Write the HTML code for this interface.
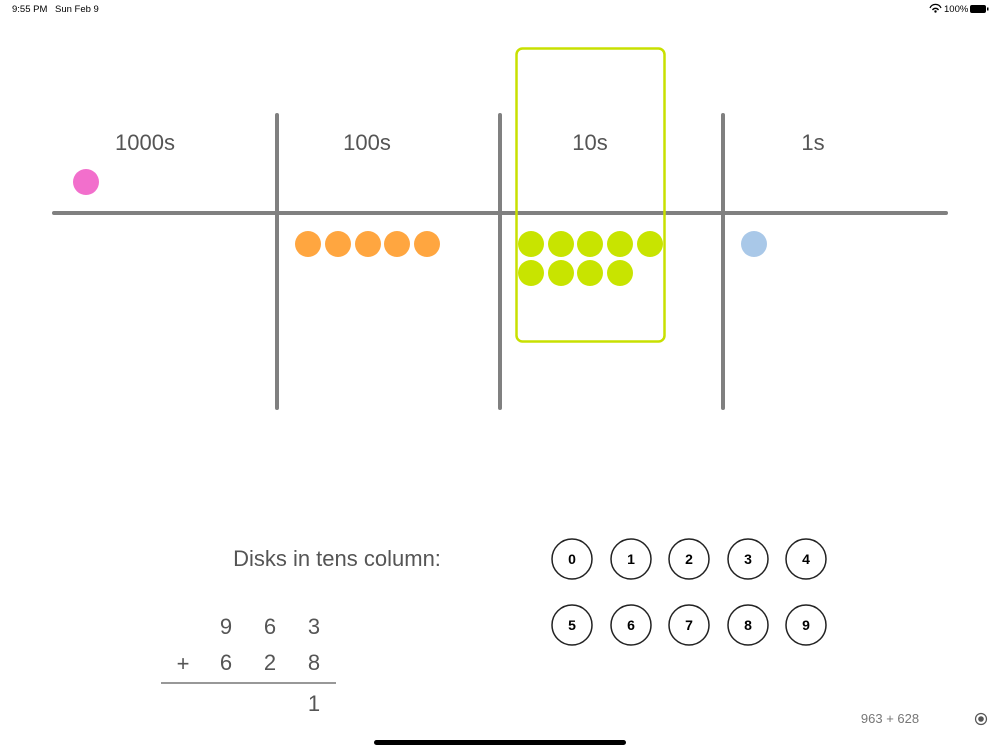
<!DOCTYPE html>
<html><head><meta charset="utf-8"><style>
html,body{margin:0;padding:0;background:#fff;width:1000px;height:750px;overflow:hidden}
svg{display:block;font-family:"Liberation Sans",sans-serif}
</style></head><body>
<svg width="1000" height="750" viewBox="0 0 1000 750" xmlns="http://www.w3.org/2000/svg">
<text x="12" y="12" font-size="9.5" fill="#000">9:55 PM</text>
<text x="55" y="12" font-size="9.5" fill="#000">Sun Feb 9</text>
<text x="944" y="12" font-size="9.5" fill="#000">100%</text>
<path d="M930 8 a6 6 0 0 1 11 0 M932.5 10 a3.5 3.5 0 0 1 6 0" stroke="#000" stroke-width="1.3" fill="none"/>
<circle cx="935.5" cy="11.5" r="1.2" fill="#000"/>
<rect x="970" y="5" width="16" height="8" rx="2" fill="#000"/>
<rect x="987" y="7.5" width="1.5" height="3" fill="#000"/>

<g stroke="#808080" stroke-width="4" stroke-linecap="round">
<line x1="54" y1="213" x2="946" y2="213"/>
<line x1="277" y1="115" x2="277" y2="408"/>
<line x1="500" y1="115" x2="500" y2="408"/>
<line x1="723" y1="115" x2="723" y2="408"/>
</g>
<g font-size="22" fill="#555" text-anchor="middle">
<text x="145" y="150">1000s</text>
<text x="367" y="150">100s</text>
<text x="590" y="150">10s</text>
<text x="813" y="150">1s</text>
</g>
<rect x="516.5" y="48.5" width="148" height="293" rx="6" fill="none" stroke="#c8e000" stroke-width="2.5"/>
<circle cx="86" cy="182" r="13" fill="#f26fcc"/>
<g fill="#ffa640">
<circle cx="308" cy="244" r="13"/><circle cx="338" cy="244" r="13"/><circle cx="368" cy="244" r="13"/><circle cx="397" cy="244" r="13"/><circle cx="427" cy="244" r="13"/>
</g>
<g fill="#c8e400">
<circle cx="531" cy="244" r="13"/><circle cx="561" cy="244" r="13"/><circle cx="590" cy="244" r="13"/><circle cx="620" cy="244" r="13"/><circle cx="650" cy="244" r="13"/>
<circle cx="531" cy="273" r="13"/><circle cx="561" cy="273" r="13"/><circle cx="590" cy="273" r="13"/><circle cx="620" cy="273" r="13"/>
</g>
<circle cx="754" cy="244" r="13" fill="#a9c8e8"/>

<text x="337" y="566" font-size="22" fill="#555" text-anchor="middle">Disks in tens column:</text>
<g font-size="22" fill="#555" text-anchor="middle">
<text x="226" y="634">9</text><text x="270" y="634">6</text><text x="314" y="634">3</text>
<text x="183" y="671">+</text><text x="226" y="670">6</text><text x="270" y="670">2</text><text x="314" y="670">8</text>
<text x="314" y="711">1</text>
</g>
<line x1="161" y1="683" x2="336" y2="683" stroke="#777" stroke-width="1.5"/>

<g fill="none" stroke="#222" stroke-width="1.5">
<circle cx="572" cy="559" r="20"/><circle cx="631" cy="559" r="20"/><circle cx="689" cy="559" r="20"/><circle cx="748" cy="559" r="20"/><circle cx="806" cy="559" r="20"/>
<circle cx="572" cy="625" r="20"/><circle cx="631" cy="625" r="20"/><circle cx="689" cy="625" r="20"/><circle cx="748" cy="625" r="20"/><circle cx="806" cy="625" r="20"/>
</g>
<g font-size="14" font-weight="bold" fill="#000" text-anchor="middle">
<text x="572" y="564">0</text><text x="631" y="564">1</text><text x="689" y="564">2</text><text x="748" y="564">3</text><text x="806" y="564">4</text>
<text x="572" y="630">5</text><text x="631" y="630">6</text><text x="689" y="630">7</text><text x="748" y="630">8</text><text x="806" y="630">9</text>
</g>
<text x="890" y="723" font-size="13" fill="#777" text-anchor="middle">963 + 628</text>
<circle cx="981" cy="719" r="5.5" fill="none" stroke="#555" stroke-width="1.2"/>
<circle cx="981" cy="719" r="2.8" fill="#555"/>
<rect x="374" y="740" width="252" height="5" rx="2.5" fill="#000"/>
</svg>
</body></html>
